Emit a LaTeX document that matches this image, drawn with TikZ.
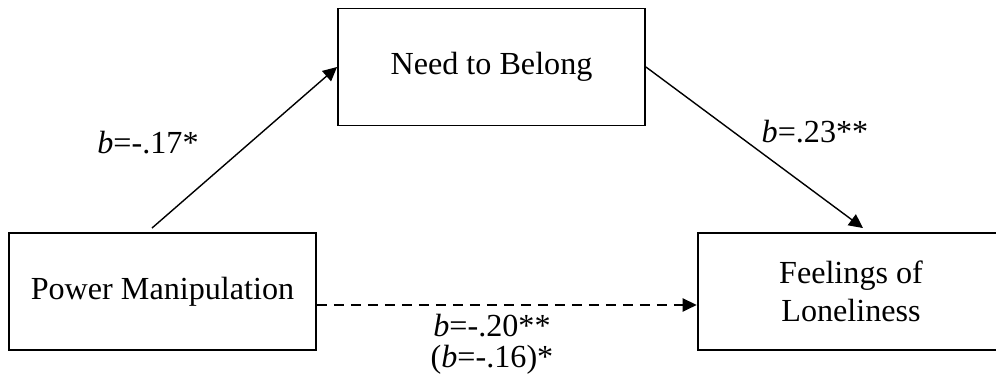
\documentclass[tikz,border=0pt]{standalone}
\usepackage{fontspec}
\setmainfont{Liberation Serif}
\usetikzlibrary{arrows.meta}

\begin{document}
\begin{tikzpicture}[
        x=0.02cm, y=-0.02cm,
        every node/.style={font=\fontsize{18.3}{21.5}\selectfont},
        varbox/.style={draw=black,line width=1.1pt,minimum width=6.14cm,
            minimum height=2.34cm,inner sep=0pt},
        path/.style={line width=0.8pt,-{Triangle[length=0.28cm,width=0.27cm]}},
        coef/.style={inner sep=0pt}
    ]

    \useasboundingbox (0,0) rectangle (996,384);

    % Variables
    \node[varbox] (pm)  at (162.5,291.5) {Power Manipulation};
    \node[varbox] (ntb) at (491.5,67)    {Need to Belong};
    \node[varbox,align=center] (fol) at (851,291.5)
        {Feelings of\\Loneliness};

    % Paths
    \draw[path] ([xshift=-0.21cm,yshift=0.08cm]pm.north) -- (ntb.west);
    \draw[path] (ntb.east) -- ([xshift=0.24cm,yshift=0.08cm]fol.north);
    \draw[path,dash pattern=on 0.2cm off 0.14cm]
        ([yshift=-0.27cm]pm.east) -- ([yshift=-0.27cm]fol.west);

    % Coefficients
    \node[coef] (a) at (148,143) {\textit{b}=-.17*};
    \node[coef] (b) at (815,132) {\textit{b}=.23**};
    \node[coef,align=center,font=\fontsize{18.3}{17.6}\selectfont] (c)
        at (492,344) {\textit{b}=-.20**\\(\textit{b}=-.16)*};

\end{tikzpicture}
\end{document}
